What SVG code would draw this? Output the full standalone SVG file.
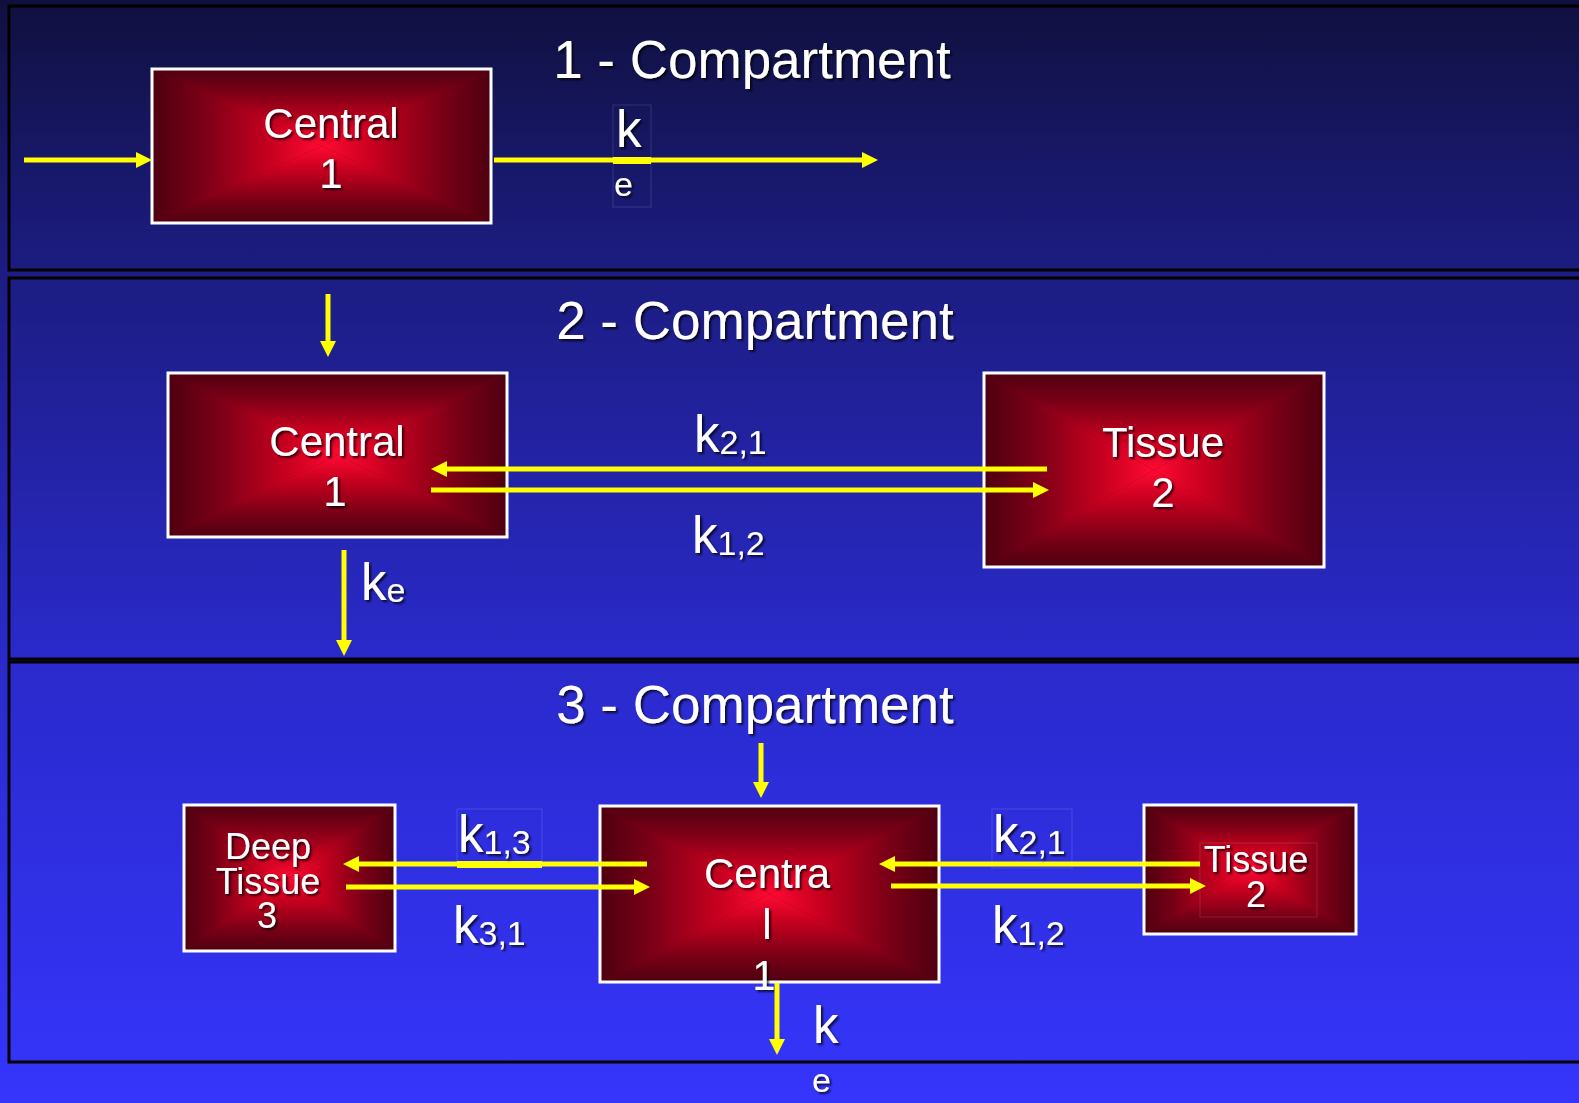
<svg xmlns="http://www.w3.org/2000/svg" width="1579" height="1103" viewBox="0 0 1579 1103">
<defs>
<linearGradient id="bg" x1="0" y1="0" x2="0" y2="1">
<stop offset="0" stop-color="#10103f"/>
<stop offset="0.22" stop-color="#1b1b7c"/>
<stop offset="0.6" stop-color="#2a2acc"/>
<stop offset="1" stop-color="#3535fc"/>
</linearGradient>
<linearGradient id="gT" x1="0" y1="0" x2="0" y2="1">
<stop offset="0" stop-color="#4e0010"/><stop offset="0.3" stop-color="#7a0016"/><stop offset="0.7" stop-color="#c8001f"/><stop offset="1" stop-color="#ff0a32"/>
</linearGradient>
<linearGradient id="gB" x1="0" y1="1" x2="0" y2="0">
<stop offset="0" stop-color="#4e0010"/><stop offset="0.3" stop-color="#7a0016"/><stop offset="0.7" stop-color="#c8001f"/><stop offset="1" stop-color="#ff0a32"/>
</linearGradient>
<linearGradient id="gL" x1="0" y1="0" x2="1" y2="0">
<stop offset="0" stop-color="#4e0010"/><stop offset="0.3" stop-color="#7a0016"/><stop offset="0.7" stop-color="#c8001f"/><stop offset="1" stop-color="#ff0a32"/>
</linearGradient>
<linearGradient id="gR" x1="1" y1="0" x2="0" y2="0">
<stop offset="0" stop-color="#4e0010"/><stop offset="0.3" stop-color="#7a0016"/><stop offset="0.7" stop-color="#c8001f"/><stop offset="1" stop-color="#ff0a32"/>
</linearGradient>
<filter id="sh" x="-20%" y="-20%" width="140%" height="140%">
<feDropShadow dx="2" dy="2" stdDeviation="1.2" flood-color="#000" flood-opacity="0.75"/>
</filter>
<marker id="ah" markerUnits="userSpaceOnUse" markerWidth="16" markerHeight="16" viewBox="0 0 16 16" refX="4" refY="8" orient="auto">
<path d="M0,0 L16,8 L0,16 z" fill="#ffff00"/>
</marker>
<style>
.panel{fill:none;stroke:#000;stroke-width:3}
.base{fill:#7a0016}
.box{fill:none;stroke:#ffffff;stroke-width:3}
.t{fill:#ffffff;font-family:"Liberation Sans",Arial,sans-serif;filter:url(#sh)}
.title{font-size:53px;text-anchor:middle}
.n42{font-size:42px;text-anchor:middle}
.n36{font-size:36px;text-anchor:middle}
.k{font-size:51px}
.sub{font-size:34px}
.arr{stroke:#ffff00;stroke-width:5;fill:none;marker-end:url(#ah)}
.faint{fill:none;stroke:#ffffff;stroke-opacity:0.13;stroke-width:1}
</style>
</defs>

<rect x="0" y="0" width="1579" height="1103" fill="url(#bg)"/>

<g id="panels">
<rect class="panel" x="9" y="6" width="1600" height="264"/>
<rect class="panel" x="9" y="278" width="1600" height="381"/>
<rect class="panel" x="9" y="662" width="1600" height="400"/>
</g>

<g id="titles">
<text class="t title" x="752" y="78">1 - Compartment</text>
<text class="t title" x="755" y="339">2 - Compartment</text>
<text class="t title" x="755" y="723">3 - Compartment</text>
</g>

<g id="p1-central">
<rect class="base" x="152" y="69" width="339" height="154"/>
<polygon fill="url(#gT)" points="152,69 491,69 321.5,146"/>
<polygon fill="url(#gB)" points="152,223 491,223 321.5,146"/>
<polygon fill="url(#gL)" points="152,69 152,223 321.5,146"/>
<polygon fill="url(#gR)" points="491,69 491,223 321.5,146"/>
<rect class="box" x="152" y="69" width="339" height="154"/>
<text class="t n42" x="331" y="138">Central</text>
<text class="t n42" x="331" y="188">1</text>
</g>

<g id="p2-central">
<rect class="base" x="168" y="373" width="339" height="164"/>
<polygon fill="url(#gT)" points="168,373 507,373 337.5,455"/>
<polygon fill="url(#gB)" points="168,537 507,537 337.5,455"/>
<polygon fill="url(#gL)" points="168,373 168,537 337.5,455"/>
<polygon fill="url(#gR)" points="507,373 507,537 337.5,455"/>
<rect class="box" x="168" y="373" width="339" height="164"/>
<text class="t n42" x="337" y="456">Central</text>
<text class="t n42" x="335" y="506">1</text>
</g>

<g id="p2-tissue">
<rect class="base" x="984" y="373" width="340" height="194"/>
<polygon fill="url(#gT)" points="984,373 1324,373 1154,470"/>
<polygon fill="url(#gB)" points="984,567 1324,567 1154,470"/>
<polygon fill="url(#gL)" points="984,373 984,567 1154,470"/>
<polygon fill="url(#gR)" points="1324,373 1324,567 1154,470"/>
<rect class="box" x="984" y="373" width="340" height="194"/>
<text class="t n42" x="1163" y="457">Tissue</text>
<text class="t n42" x="1163" y="507">2</text>
</g>

<g id="p3-deep">
<rect class="base" x="184" y="805" width="211" height="146"/>
<polygon fill="url(#gT)" points="184,805 395,805 289.5,878"/>
<polygon fill="url(#gB)" points="184,951 395,951 289.5,878"/>
<polygon fill="url(#gL)" points="184,805 184,951 289.5,878"/>
<polygon fill="url(#gR)" points="395,805 395,951 289.5,878"/>
<rect class="box" x="184" y="805" width="211" height="146"/>
<text class="t n36" x="268" y="859">Deep</text>
<text class="t n36" x="268" y="894">Tissue</text>
<text class="t n36" x="267" y="928">3</text>
</g>

<g id="p3-central">
<rect class="base" x="600" y="806" width="339" height="176"/>
<polygon fill="url(#gT)" points="600,806 939,806 769.5,894"/>
<polygon fill="url(#gB)" points="600,982 939,982 769.5,894"/>
<polygon fill="url(#gL)" points="600,806 600,982 769.5,894"/>
<polygon fill="url(#gR)" points="939,806 939,982 769.5,894"/>
<rect class="box" x="600" y="806" width="339" height="176"/>
<text class="t n42" x="767" y="888">Centra</text>
<text class="t n42" x="767" y="939">l</text>
<text class="t n42" x="764" y="990">1</text>
</g>

<g id="p3-tissue">
<rect class="base" x="1144" y="805" width="212" height="129"/>
<polygon fill="url(#gT)" points="1144,805 1356,805 1250,869.5"/>
<polygon fill="url(#gB)" points="1144,934 1356,934 1250,869.5"/>
<polygon fill="url(#gL)" points="1144,805 1144,934 1250,869.5"/>
<polygon fill="url(#gR)" points="1356,805 1356,934 1250,869.5"/>
<rect class="box" x="1144" y="805" width="212" height="129"/>
<rect class="faint" x="1200" y="843" width="117" height="74"/>
<text class="t n36" x="1256" y="872">Tissue</text>
<text class="t n36" x="1256" y="907">2</text>
</g>

<g id="connectors">
<!-- panel 1 -->
<line class="arr" x1="24" y1="160" x2="140" y2="160"/>
<line class="arr" x1="494" y1="160" x2="866" y2="160"/>
<rect x="613" y="157" width="38" height="7" fill="#ffff00"/>
<!-- panel 2 -->
<line class="arr" x1="328" y1="294" x2="328" y2="345"/>
<line class="arr" x1="1047" y1="469" x2="443" y2="469"/>
<line class="arr" x1="431" y1="490" x2="1037" y2="490"/>
<line class="arr" x1="344" y1="550" x2="344" y2="644"/>
<!-- panel 3 -->
<line class="arr" x1="761" y1="743" x2="761" y2="786"/>
<line class="arr" x1="647" y1="864" x2="355" y2="864"/>
<rect x="457" y="861" width="85" height="7" fill="#ffff00"/>
<line class="arr" x1="346" y1="887" x2="638" y2="887"/>
<line class="arr" x1="1200" y1="864" x2="891" y2="864"/>
<line class="arr" x1="891" y1="886" x2="1194" y2="886"/>
<line class="arr" x1="777" y1="983" x2="777" y2="1043"/>
</g>

<g id="labels">
<rect class="faint" x="613" y="105" width="38" height="102"/>
<text class="t k" x="616" y="147">k</text>
<text class="t sub" x="614" y="196">e</text>

<text class="t k" x="694" y="452">k<tspan class="sub" dy="2">2,1</tspan></text>
<text class="t k" x="692" y="553">k<tspan class="sub" dy="2">1,2</tspan></text>
<text class="t k" x="361" y="600">k<tspan class="sub" dy="2">e</tspan></text>

<rect class="faint" x="457" y="809" width="85" height="57"/>
<text class="t k" x="458" y="852">k<tspan class="sub" dy="2">1,3</tspan></text>
<text class="t k" x="453" y="943">k<tspan class="sub" dy="2">3,1</tspan></text>
<rect class="faint" x="992" y="809" width="80" height="59"/>
<text class="t k" x="993" y="852">k<tspan class="sub" dy="2">2,1</tspan></text>
<text class="t k" x="992" y="943">k<tspan class="sub" dy="2">1,2</tspan></text>
<text class="t k" x="813" y="1043">k</text>
<text class="t sub" x="812" y="1092">e</text>
</g>
</svg>
